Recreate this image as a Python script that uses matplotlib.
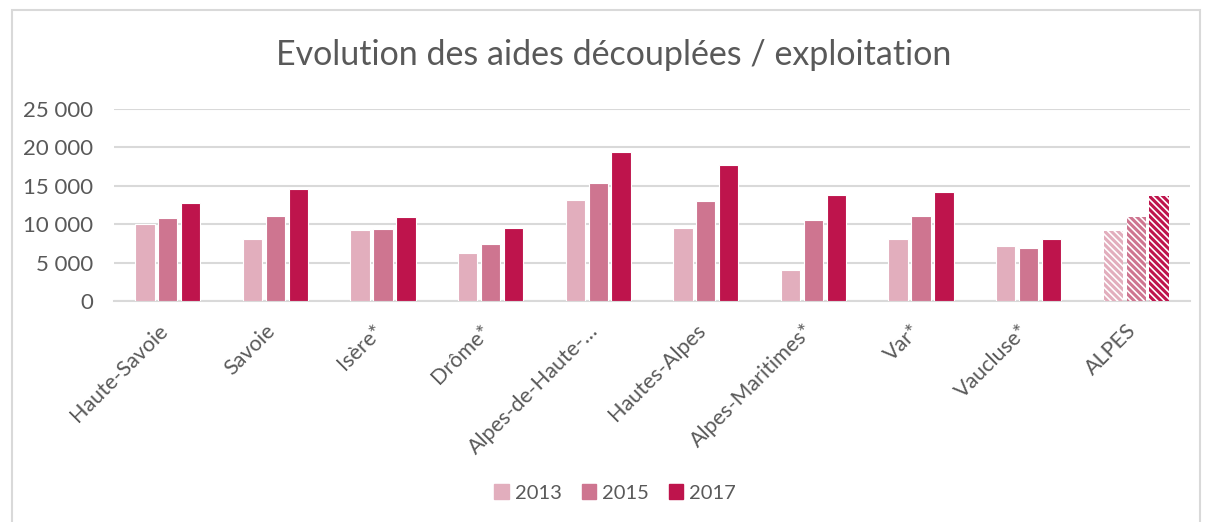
import matplotlib.pyplot as plt
from matplotlib.patches import Rectangle
from matplotlib.ticker import FuncFormatter
from matplotlib.transforms import ScaledTranslation
import numpy as np

categories = ["Haute-Savoie", "Savoie", "Isère*", "Drôme*", "Alpes-de-Haute-…",
              "Hautes-Alpes", "Alpes-Maritimes*", "Var*", "Vaucluse*", "ALPES"]
years = ["2013", "2015", "2017"]
v2013 = [10000, 8100, 9200, 6250, 13200, 9550, 4100, 8050, 7170, 9130]
v2015 = [10800, 11100, 9350, 7430, 15300, 13050, 10560, 11040, 6910, 10950]
v2017 = [12700, 14600, 11000, 9470, 19400, 17700, 13800, 14250, 8040, 13700]
colors = ["#E2AEBD", "#CE7590", "#BE144C"]

plt.rcParams['font.family'] = ['Lato', 'DejaVu Sans']
plt.rcParams['hatch.linewidth'] = 2.2
text_color = "#595959"
grid_color = "#D9D9D9"

fig = plt.figure(figsize=(12.08, 5.22), dpi=100)
ax = fig.add_axes([114 / 1208, 1 - 301 / 522, (1190 - 114) / 1208, (301 - 109) / 522])

x = np.arange(len(categories))
width = 0.18
step = 0.213
series = [v2013, v2015, v2017]
for i, vals in enumerate(series):
    pos = x + (i - 1) * step
    # regular departments
    ax.bar(pos[:-1], vals[:-1], width, color=colors[i], edgecolor="white",
           linewidth=0.8, label=years[i], zorder=3)
    # ALPES total is hatched
    ax.bar(pos[-1:], vals[-1:], width, facecolor="white", edgecolor=colors[i],
           hatch="\\\\\\\\\\", linewidth=0, zorder=3)

ax.set_xlim(-0.5, len(categories) - 0.5)
ax.set_ylim(0, 25000)
ax.set_yticks(range(0, 25001, 5000))
ax.yaxis.set_major_formatter(FuncFormatter(lambda v, p: "{:,}".format(int(v)).replace(",", " ")))
ax.grid(axis="y", color=grid_color, linewidth=1.5, zorder=0)
for s in ["top", "right", "left"]:
    ax.spines[s].set_visible(False)
ax.spines["bottom"].set_color(grid_color)
ax.spines["bottom"].set_linewidth(1.5)
ax.tick_params(axis="both", length=0, colors=text_color, labelsize=16)
ax.tick_params(axis="y", pad=15)
ax.set_xticks(x)
ax.set_xticklabels(categories, rotation=45, ha="right", rotation_mode="anchor")
ax.tick_params(axis="x", pad=14, labelsize=15.5)
shift = ScaledTranslation(-10 / 100, 0, fig.dpi_scale_trans)
for lab in ax.get_xticklabels():
    lab.set_transform(lab.get_transform() + shift)

fig.text(614 / 1208, 1 - 55 / 522, "Evolution des aides découplées / exploitation",
         ha="center", va="center", fontsize=24.5, color=text_color)

handles = [Rectangle((0, 0), 1, 1, color=c) for c in colors]
fig.legend(handles, years, loc="center", bbox_to_anchor=(615 / 1208, 1 - 493 / 522),
           ncol=3, frameon=False, fontsize=14.5, handlelength=0.7, handleheight=0.7,
           handletextpad=0.3, columnspacing=1.0, labelcolor=text_color)

fig.patches.append(Rectangle((12 / 1208, -0.1), (1200 - 12) / 1208, 1.1 - 10 / 522,
                             transform=fig.transFigure, fill=False,
                             edgecolor=grid_color, linewidth=1.5))

fig.savefig("out.png", dpi=100)
